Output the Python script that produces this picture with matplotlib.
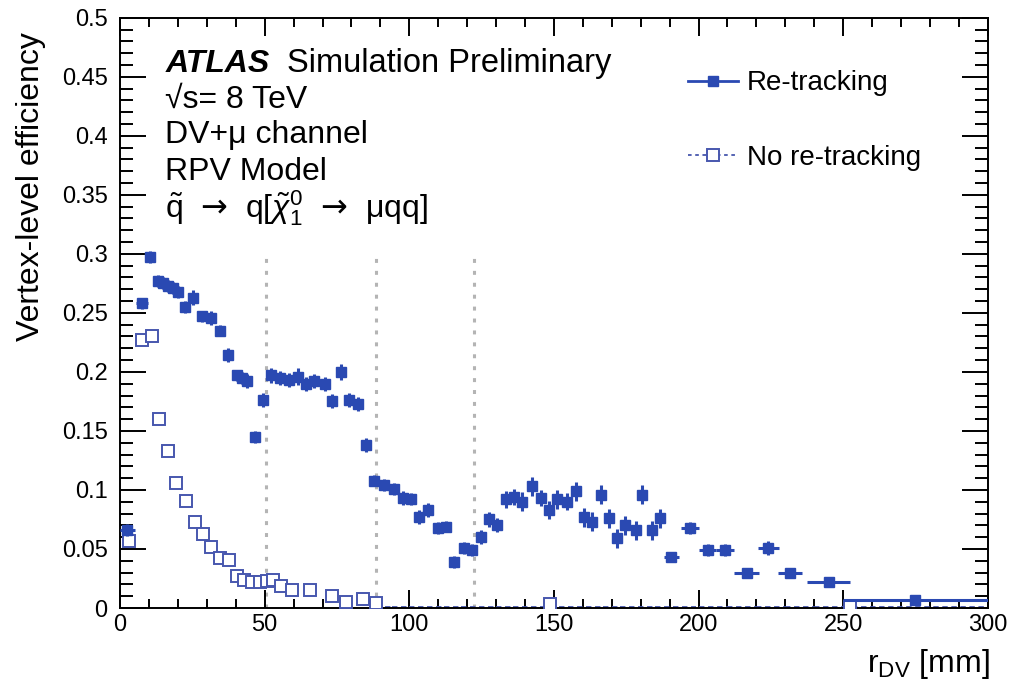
import matplotlib
matplotlib.use("Agg")
import matplotlib.pyplot as plt
from matplotlib.lines import Line2D
from matplotlib.ticker import MultipleLocator, FuncFormatter

plt.rcParams['font.family'] = ['Liberation Sans', 'DejaVu Sans']
plt.rcParams['mathtext.fontset'] = 'custom'
plt.rcParams['mathtext.rm'] = 'Liberation Sans'
plt.rcParams['mathtext.it'] = 'Liberation Sans:italic'
plt.rcParams['mathtext.bf'] = 'Liberation Sans:bold'
plt.rcParams['mathtext.sf'] = 'DejaVu Sans'

# --- data ---
# Re-tracking (filled squares)
r_re = [2.5, 7.5, 10.5, 13.0, 14.8, 16.6, 18.3, 20.0, 22.4, 25.3, 28.2, 31.6, 34.5,
        37.2, 40.3, 42.1, 43.8, 46.6, 49.4, 52.3, 55.2, 58.4, 61.5, 64.4, 67.2, 70.7,
        73.3, 76.4, 79.3, 82.2, 85.1, 87.9, 91.4, 94.8, 97.7, 100.6, 103.4, 106.3,
        109.8, 112.6, 115.5, 119.0, 121.8, 124.7, 127.6, 130.4, 133.3, 136.2, 139.0,
        142.5, 145.4, 148.3, 151.1, 154.6, 157.5, 160.3, 163.2, 166.1, 169.0, 171.8,
        174.7, 178.2, 180.5, 183.9, 186.8, 190.6, 197.1, 203.2, 209.2, 216.7, 224.1,
        231.6, 245.0, 275.0]
eff_re = [0.066, 0.258, 0.297, 0.277, 0.275, 0.273, 0.271, 0.268, 0.255, 0.263, 0.247,
          0.246, 0.235, 0.214, 0.197, 0.195, 0.192, 0.145, 0.176, 0.197, 0.195, 0.193,
          0.196, 0.190, 0.192, 0.190, 0.175, 0.200, 0.176, 0.173, 0.138, 0.108, 0.104,
          0.101, 0.093, 0.092, 0.077, 0.083, 0.068, 0.069, 0.039, 0.051, 0.049, 0.060,
          0.075, 0.070, 0.092, 0.094, 0.090, 0.103, 0.093, 0.083, 0.092, 0.090, 0.099,
          0.077, 0.073, 0.096, 0.076, 0.059, 0.070, 0.066, 0.096, 0.066, 0.076, 0.043,
          0.068, 0.049, 0.049, 0.030, 0.051, 0.030, 0.022, 0.0065]
eff_re_err = [0.005, 0.005, 0.005, 0.005, 0.005, 0.005, 0.005, 0.005, 0.005, 0.006, 0.005,
              0.006, 0.005, 0.006, 0.005, 0.005, 0.006, 0.005, 0.006, 0.006, 0.006, 0.006,
              0.007, 0.006, 0.006, 0.006, 0.006, 0.007, 0.006, 0.006, 0.006, 0.005, 0.005,
              0.005, 0.006, 0.005, 0.006, 0.006, 0.005, 0.005, 0.005, 0.005, 0.005, 0.006,
              0.006, 0.006, 0.007, 0.007, 0.008, 0.008, 0.007, 0.008, 0.008, 0.007, 0.008,
              0.008, 0.008, 0.008, 0.008, 0.008, 0.008, 0.008, 0.008, 0.008, 0.008, 0.004,
              0.005, 0.005, 0.005, 0.003, 0.006, 0.003, 0.003, 0.002]
r_re_hw = [2.5, 2.0, 1.2, 0.9, 0.9, 0.9, 0.9, 0.9, 1.4, 1.4, 1.4, 1.4, 1.4, 1.4, 1.4,
           0.9, 0.9, 1.4, 1.4, 1.4, 1.4, 1.4, 1.4, 1.4, 1.4, 1.4, 1.4, 1.4, 1.4, 1.4,
           1.4, 1.4, 1.4, 1.4, 1.4, 1.4, 1.4, 1.4, 1.4, 1.4, 1.4, 1.4, 1.4, 1.4, 1.4,
           1.4, 1.4, 1.4, 1.4, 1.4, 1.4, 1.4, 1.4, 1.4, 1.4, 1.4, 1.4, 1.4, 1.4, 1.4,
           1.4, 1.4, 1.4, 1.4, 1.4, 2.6, 3.0, 3.0, 3.0, 4.3, 3.7, 4.3, 7.5, 25.0]

# No re-tracking (open squares)
r_no = [3.2, 7.5, 10.9, 13.6, 16.7, 19.5, 22.8, 25.9, 28.7, 31.6, 34.5, 37.6, 40.3,
        43.0, 45.6, 48.3, 50.8, 53.0, 55.5, 59.5, 65.8, 73.3, 78.2, 83.9, 88.5, 148.5,
        252.5]
eff_no = [0.057, 0.227, 0.230, 0.160, 0.133, 0.106, 0.091, 0.073, 0.063, 0.052, 0.042,
          0.041, 0.027, 0.024, 0.022, 0.022, 0.023, 0.024, 0.019, 0.015, 0.015, 0.010,
          0.005, 0.008, 0.004, 0.003, 0.001]
# empty bins of the no re-tracking curve (drawn as dashed bars just above zero)
r_no_empty = [91.0, 97.0, 103.0, 109.0, 115.0, 121.0, 127.0, 133.0, 139.0, 145.0,
              152.0, 158.0, 164.0, 170.0, 176.0, 182.0, 188.0, 195.0, 205.0, 215.0,
              225.0, 235.0, 245.0, 275.0]
r_no_empty_hw = [2.5, 3.0, 3.0, 3.0, 3.0, 3.0, 3.0, 3.0, 3.0, 3.0, 3.5, 3.0, 3.0, 3.0,
                 3.0, 3.0, 3.0, 4.0, 5.0, 5.0, 5.0, 5.0, 5.0, 25.0]
eff_no_empty = [0.001] * len(r_no_empty)

pixel_layers = [50.5, 88.5, 122.5]

blue = '#2a49b2'
blue_open = '#4757ae'

fig = plt.figure(figsize=(10.09, 6.82), dpi=100)
ax = fig.add_axes([0.119, 0.1085, 0.860, 0.8655])

ax.vlines(pixel_layers, 0, 0.3, colors='#b4b4b4', linewidth=2.2,
          linestyles=[(0, (1.3, 2.6))], zorder=1)

eb = ax.errorbar(r_no_empty, eff_no_empty, xerr=r_no_empty_hw, fmt='none',
                 ecolor=blue_open, elinewidth=1.3, zorder=2)
eb[2][0].set_linestyle((0, (3, 2)))

ax.plot(r_no, eff_no, linestyle='none', marker='s', ms=8.5, mfc='white',
        mec=blue_open, mew=1.4, zorder=3)

ax.errorbar(r_re, eff_re, yerr=eff_re_err, xerr=r_re_hw, fmt='s', ms=7.5,
            color=blue, mec=blue, ecolor=blue, elinewidth=2.2, capsize=0, zorder=4)

ax.set_xlim(0, 300)
ax.set_ylim(0, 0.5)
ax.xaxis.set_major_locator(MultipleLocator(50))
ax.xaxis.set_minor_locator(MultipleLocator(10))
ax.yaxis.set_major_locator(MultipleLocator(0.05))
ax.yaxis.set_minor_locator(MultipleLocator(0.01))
ax.yaxis.set_major_formatter(FuncFormatter(lambda v, p: ('%.2f' % v).rstrip('0').rstrip('.') if v else '0'))
ax.xaxis.set_major_formatter(FuncFormatter(lambda v, p: '%d' % v))

ax.tick_params(axis='both', which='both', direction='in', top=True, right=True,
               labelsize=17, width=1.4)
ax.tick_params(axis='x', which='major', length=13, pad=4)
ax.tick_params(axis='x', which='minor', length=6.5)
ax.tick_params(axis='y', which='major', length=19, pad=9)
ax.tick_params(axis='y', which='minor', length=9.5)
for s in ax.spines.values():
    s.set_linewidth(1.4)

fig.text(0.031, 1 - 32 / 682, 'Vertex-level efficiency', rotation=90,
         ha='center', va='top', fontsize=23)
fig.text(0.981, 0.014, r'r$_{\mathrm{DV}}$ [mm]', ha='right', va='baseline', fontsize=23)

# ATLAS label block
ax.text(0.052, 0.908, 'ATLAS', transform=ax.transAxes, fontsize=23,
        fontweight='bold', fontstyle='italic', va='baseline')
ax.text(0.192, 0.908, 'Simulation Preliminary', transform=ax.transAxes,
        fontsize=23.5, va='baseline')
ax.text(0.052, 0.847, '√s= 8 TeV', transform=ax.transAxes, fontsize=23, va='baseline')
ax.text(0.052, 0.788, 'DV+μ channel', transform=ax.transAxes, fontsize=23, va='baseline')
ax.text(0.052, 0.725, 'RPV Model', transform=ax.transAxes, fontsize=23, va='baseline')
ax.text(0.052, 0.661,
        r'$\tilde{\mathrm{q}}\ \ \mathsf{→}\ \ \mathrm{q}[\tilde{\chi}_{1}^{0}\ \ \mathsf{→}\ \ \mathrm{μqq}]$',
        transform=ax.transAxes, fontsize=23, va='baseline')

handles = [Line2D([], [], color=blue, marker='s', ms=7.5, lw=2.0),
           Line2D([], [], color=blue_open, marker='s', ms=8.5, mfc='white', mew=1.4,
                  lw=1.3, linestyle=(0, (2, 2)))]
ax.legend(handles, ['Re-tracking', 'No re-tracking'], loc='upper left',
          bbox_to_anchor=(0.655, 0.911), frameon=False, fontsize=20,
          handlelength=1.8, handletextpad=0.3, labelspacing=1.75, borderpad=0,
          borderaxespad=0)

fig.savefig('out.png', dpi=100)
